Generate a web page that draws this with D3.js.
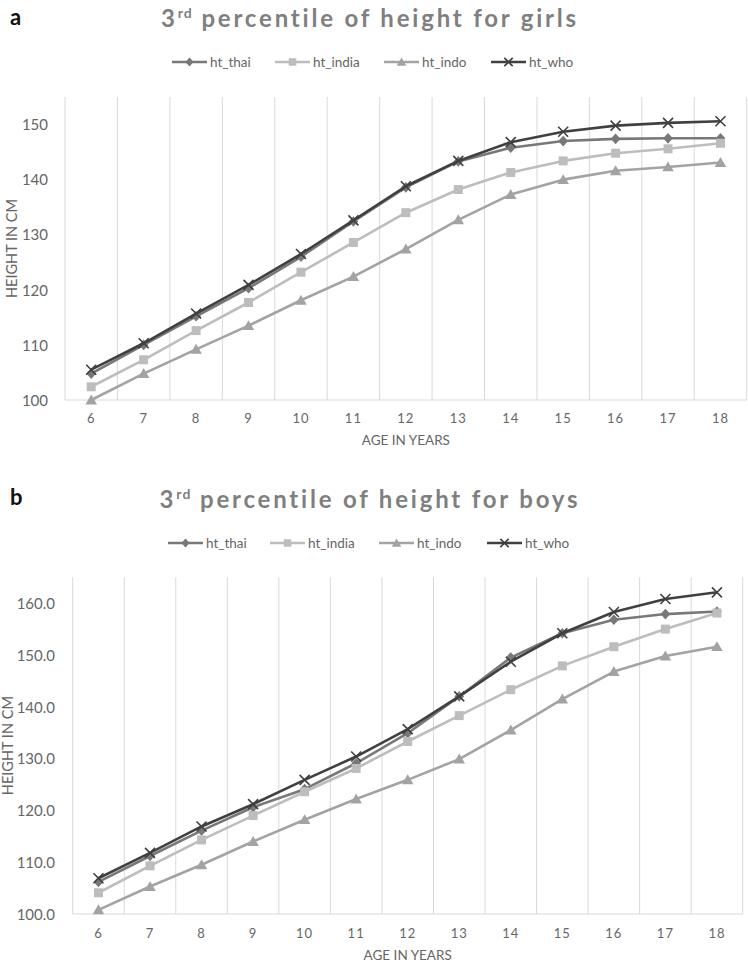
<!DOCTYPE html>
<html><head><meta charset="utf-8">
<script src="https://cdn.jsdelivr.net/npm/d3@7"></script>
<style>
body{margin:0;background:#fff;}
svg text{font-family:Lato,"Open Sans",sans-serif;}
</style></head>
<body><svg id="c" width="748" height="966"></svg>
<script>
const ages = [6,7,8,9,10,11,12,13,14,15,16,17,18];
const seriesNames = ["ht_thai","ht_india","ht_indo","ht_who"];
// Girls
const girlsThai  = [104.8,110.0,115.2,120.3,126.0,132.4,138.6,143.3,145.8,147.0,147.4,147.5,147.5];
const girlsIndia = [102.4,107.3,112.6,117.7,123.2,128.6,134.0,138.2,141.3,143.4,144.8,145.6,146.6];
const girlsIndo  = [100.0,104.8,109.2,113.5,118.1,122.4,127.4,132.7,137.3,140.0,141.6,142.3,143.1];
const girlsWho   = [105.5,110.3,115.7,120.9,126.5,132.6,138.8,143.4,146.8,148.7,149.8,150.3,150.6];
const girlsTicks = [100,110,120,130,140,150];
// Boys
const boysThai  = [106.2,111.2,116.1,120.6,124.1,129.1,134.9,142.0,149.5,154.2,156.8,157.9,158.4];
const boysIndia = [104.1,109.3,114.3,119.0,123.6,128.1,133.3,138.3,143.3,147.9,151.6,155.0,158.1];
const boysIndo  = [100.8,105.3,109.5,114.0,118.2,122.2,125.9,129.9,135.5,141.5,146.8,149.8,151.6];
const boysWho   = [106.9,111.8,116.9,121.2,125.9,130.4,135.7,142.0,148.7,154.2,158.3,160.8,162.1];
const boysTicks = [100,110,120,130,140,150,160];

const colors = {ht_thai:"#787878", ht_india:"#bdbdbd", ht_indo:"#a3a3a3", ht_who:"#404040"};
const markers = {ht_thai:"diamond", ht_india:"square", ht_indo:"triangle", ht_who:"x"};

const svg = d3.select("#c");

function drawMarker(g, type, x, y, color, scale){
  scale = scale || 1;
  if(type==="diamond"){
    g.append("path").attr("d", d3.symbol(d3.symbolDiamond2, 60*scale)()).attr("transform",`translate(${x},${y}) scale(1,1.1)`).attr("fill",color);
  } else if(type==="square"){
    const s=9*Math.sqrt(scale);
    g.append("rect").attr("x",x-s/2).attr("y",y-s/2).attr("width",s).attr("height",s).attr("fill",color);
  } else if(type==="triangle"){
    const s=5.5*Math.sqrt(scale);
    g.append("path").attr("d",`M${x},${y-s}L${x+s*1.05},${y+s*0.8}L${x-s*1.05},${y+s*0.8}Z`).attr("fill",color);
  } else {
    const s=5*Math.sqrt(scale);
    g.append("path").attr("d",`M${x-s},${y-s}L${x+s},${y+s}M${x-s},${y+s}L${x+s},${y-s}`).attr("stroke",color).attr("stroke-width",1.6).attr("fill","none");
  }
}

function drawChart(cfg){
  const g = svg.append("g");
  // panel letter
  g.append("text").attr("x",10).attr("y",cfg.letterY).attr("font-size",22).attr("font-weight","bold").attr("fill","#111").text(cfg.letter);
  // title
  const t = g.append("text").attr("x",370).attr("y",cfg.titleY).attr("text-anchor","middle")
    .attr("font-size",24).attr("font-weight","bold").attr("fill","#7f7f7f").attr("letter-spacing",2.8);
  t.append("tspan").text("3");
  t.append("tspan").attr("font-size",14).attr("dy",-9).attr("letter-spacing",1).text("rd");
  t.append("tspan").attr("dy",9).text(" percentile of height for "+cfg.who);
  // legend
  seriesNames.forEach((n,i)=>{
    const lx = cfg.legendX[i], ly = cfg.legendY;
    g.append("line").attr("x1",lx).attr("x2",lx+35).attr("y1",ly).attr("y2",ly).attr("stroke",colors[n]).attr("stroke-width",2.5);
    drawMarker(g, markers[n], lx+17.5, ly, colors[n], 0.7);
    g.append("text").attr("x",lx+38).attr("y",ly+4.5).attr("font-size",13.5).attr("fill","#666").text(n);
  });
  const x = d3.scaleBand().domain(ages).range([cfg.left,cfg.right]);
  const y = d3.scaleLinear().domain(cfg.yDomain).range([cfg.bottom,cfg.top]);
  // vertical gridlines at category boundaries
  const bounds = ages.map(a=>x(a)).concat([cfg.right]);
  g.selectAll(null).data(bounds).enter().append("line")
    .attr("x1",d=>d).attr("x2",d=>d).attr("y1",cfg.top).attr("y2",cfg.bottom)
    .attr("stroke","#d9d9d9").attr("stroke-width",1);
  g.append("line").attr("x1",cfg.left).attr("x2",cfg.right).attr("y1",cfg.bottom).attr("y2",cfg.bottom).attr("stroke","#d9d9d9").attr("stroke-width",1);
  // y ticks
  const yAxis = d3.axisLeft(y).tickValues(cfg.ticks).tickSize(0).tickFormat(cfg.fmt);
  const ya = g.append("g").attr("transform",`translate(${cfg.tickRight},0)`).call(yAxis);
  ya.select(".domain").remove();
  ya.selectAll("text").attr("font-size",15).attr("fill","#666").attr("font-family","Lato,'Open Sans',sans-serif").attr("dy","0.35em");
  // x ticks
  const xAxis = d3.axisBottom(x).tickSize(0);
  const xa = g.append("g").attr("transform",`translate(0,${cfg.bottom})`).call(xAxis);
  xa.select(".domain").remove();
  xa.selectAll("text").attr("font-size",13).attr("fill","#666").attr("letter-spacing",1).attr("font-family","Lato,'Open Sans',sans-serif").attr("y",cfg.xTickDy).attr("dy","0.35em");
  // axis titles
  g.append("text").attr("x",(cfg.left+cfg.right)/2).attr("y",cfg.xTitleY).attr("text-anchor","middle").attr("font-size",13.5).attr("fill","#666").text("AGE IN YEARS");
  g.append("text").attr("transform",`translate(${cfg.yTitleX},${(cfg.top+cfg.bottom)/2}) rotate(-90)`).attr("text-anchor","middle").attr("font-size",14.5).attr("fill","#666").text("HEIGHT IN CM");
  // series
  const line = d3.line().x((d,i)=>x(ages[i])+x.bandwidth()/2).y(d=>y(d));
  cfg.series.forEach((vals,si)=>{
    const n = seriesNames[si];
    g.append("path").datum(vals).attr("d",line).attr("fill","none").attr("stroke",colors[n]).attr("stroke-width",2.6).attr("stroke-linejoin","round");
    vals.forEach((v,i)=>drawMarker(g, markers[n], x(ages[i])+x.bandwidth()/2, y(v), colors[n], 1));
  });
}

drawChart({letter:"a", letterY:25, titleY:27, who:"girls", legendY:62, legendX:[172,275,384,491],
  left:65, right:746.7, top:97, bottom:400, yDomain:[100,155], ticks:girlsTicks, fmt:d3.format("d"),
  tickRight:51, xTickDy:18, xTitleY:445, yTitleX:17,
  series:[girlsThai,girlsIndia,girlsIndo,girlsWho]});
drawChart({letter:"b", letterY:505, titleY:508, who:"boys", legendY:543, legendX:[168,270,379,487],
  left:72.7, right:742.7, top:577.3, bottom:914, yDomain:[100,165], ticks:boysTicks, fmt:d3.format(".1f"),
  tickRight:58, xTickDy:19, xTitleY:960, yTitleX:13,
  series:[boysThai,boysIndia,boysIndo,boysWho]});
</script></body></html>
